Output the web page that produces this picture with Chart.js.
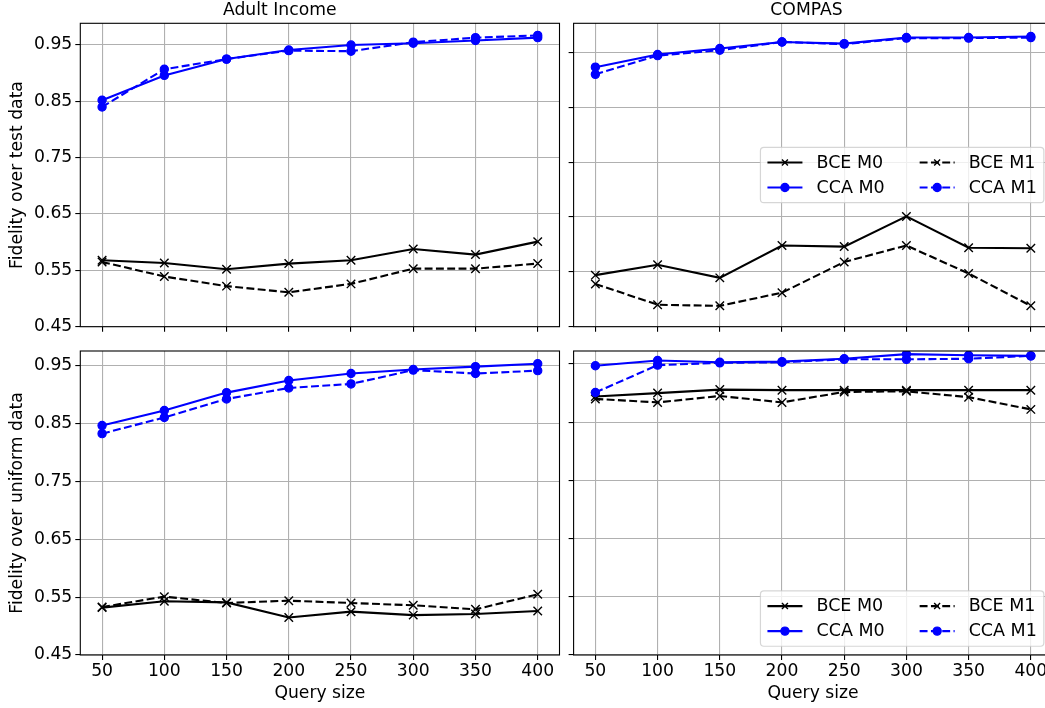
<!DOCTYPE html>
<html>
<head>
<meta charset="utf-8">
<script src="https://cdn.jsdelivr.net/npm/chart.js@4.4.0/dist/chart.umd.min.js"></script>
<style>
html, body { margin:0; padding:0; background:#fff; overflow:hidden; width:1045px; height:708px; position:relative; }
.p { position:absolute; }
canvas { display:block; }
</style>
</head>
<body>
<div class="p" style="left:0px;top:0px"><canvas id="tl" width="570" height="335"></canvas></div>
<div class="p" style="left:560px;top:0px"><canvas id="tr" width="500" height="335"></canvas></div>
<div class="p" style="left:0px;top:335px"><canvas id="bl" width="570" height="373"></canvas></div>
<div class="p" style="left:560px;top:335px"><canvas id="br" width="500" height="373"></canvas></div>
<script>
// ---------- data ----------
const querySizes = [50, 100, 150, 200, 250, 300, 350, 400];
const yTickValues = [0.45, 0.55, 0.65, 0.75, 0.85, 0.95];
const seriesNames = ['BCE M0', 'CCA M0', 'BCE M1', 'CCA M1'];
const panelTitles = ['Adult Income', 'COMPAS'];
const rowTitles = ['Fidelity over test data', 'Fidelity over uniform data'];
const xTitle = 'Query size';

// Adult Income, test data
const adultTestBceM0 = [0.568, 0.563, 0.552, 0.562, 0.568, 0.588, 0.578, 0.601];
const adultTestCcaM0 = [0.852, 0.896, 0.925, 0.941, 0.950, 0.953, 0.958, 0.963];
const adultTestBceM1 = [0.565, 0.539, 0.522, 0.511, 0.526, 0.553, 0.553, 0.562];
const adultTestCcaM1 = [0.840, 0.907, 0.925, 0.940, 0.939, 0.955, 0.963, 0.967];
// COMPAS, test data
const compasTestBceM0 = [0.544, 0.563, 0.539, 0.598, 0.596, 0.651, 0.594, 0.593];
const compasTestCcaM0 = [0.923, 0.946, 0.957, 0.969, 0.966, 0.977, 0.977, 0.979];
const compasTestBceM1 = [0.528, 0.490, 0.488, 0.512, 0.568, 0.598, 0.547, 0.488];
const compasTestCcaM1 = [0.910, 0.944, 0.954, 0.969, 0.965, 0.976, 0.976, 0.977];
// Adult Income, uniform data
const adultUnifBceM0 = [0.532, 0.543, 0.541, 0.515, 0.525, 0.519, 0.521, 0.526];
const adultUnifCcaM0 = [0.847, 0.873, 0.904, 0.925, 0.937, 0.944, 0.949, 0.954];
const adultUnifBceM1 = [0.533, 0.551, 0.540, 0.544, 0.540, 0.536, 0.529, 0.555];
const adultUnifCcaM1 = [0.833, 0.861, 0.893, 0.912, 0.919, 0.943, 0.937, 0.942];
// COMPAS, uniform data
const compasUnifBceM0 = [0.894, 0.900, 0.906, 0.905, 0.905, 0.905, 0.905, 0.905];
const compasUnifCcaM0 = [0.947, 0.956, 0.953, 0.954, 0.959, 0.967, 0.965, 0.964];
const compasUnifBceM1 = [0.890, 0.884, 0.895, 0.884, 0.902, 0.903, 0.893, 0.872];
const compasUnifCcaM1 = [0.901, 0.948, 0.952, 0.953, 0.958, 0.958, 0.959, 0.964];

// ---------- styling ----------
const FONT = "'DejaVu Sans', 'Noto Sans', sans-serif";
const FS = 17.2;
Chart.defaults.font.family = FONT;
Chart.defaults.font.size = FS;
Chart.defaults.color = '#000';

function styleFor(name) {
  const isBce = name.startsWith('BCE');
  const dashed = name.endsWith('M1');
  const color = isBce ? '#000000' : '#0000ff';
  return {
    color,
    dash: dashed ? [7.9, 3.4] : [],
    pointStyle: isBce ? 'crossRot' : 'circle',
    radius: isBce ? 6 : 4.1,
    pointBorderWidth: isBce ? 1.4 : 1.2
  };
}

function makeDatasets(series) {
  return seriesNames.map((name, i) => {
    const s = styleFor(name);
    return {
      label: name,
      data: querySizes.map((q, k) => ({ x: q, y: series[i][k] })),
      borderColor: s.color,
      backgroundColor: s.color,
      borderWidth: 2.1,
      borderDash: s.dash,
      pointStyle: s.pointStyle,
      pointRadius: s.radius,
      pointBorderWidth: s.pointBorderWidth,
      pointBorderColor: s.color,
      pointBackgroundColor: s.color,
      tension: 0,
      fill: false,
      order: seriesNames.length - i
    };
  });
}

// frame (spines)
const framePlugin = {
  id: 'frame',
  afterDatasetsDraw(chart) {
    const { ctx, chartArea: a } = chart;
    ctx.save();
    ctx.strokeStyle = '#000';
    ctx.lineWidth = 1.1;
    ctx.setLineDash([]);
    ctx.strokeRect(a.left, a.top, a.right - a.left, a.bottom - a.top);
    ctx.restore();
  }
};

function drawMarker(ctx, s, x, y) {
  ctx.save();
  ctx.setLineDash([]);
  ctx.strokeStyle = s.color;
  ctx.fillStyle = s.color;
  ctx.lineWidth = s.pointBorderWidth;
  if (s.pointStyle === 'circle') {
    ctx.beginPath();
    ctx.arc(x, y, s.radius, 0, Math.PI * 2);
    ctx.fill();
    ctx.stroke();
  } else {
    const d = s.radius * Math.SQRT1_2;
    ctx.beginPath();
    ctx.moveTo(x - d, y - d); ctx.lineTo(x + d, y + d);
    ctx.moveTo(x - d, y + d); ctx.lineTo(x + d, y - d);
    ctx.stroke();
  }
  ctx.restore();
}

// matplotlib-like legend (2 columns, column-major)
const mplLegend = {
  id: 'mplLegend',
  afterDraw(chart, args, opts) {
    if (!opts || !opts.loc) return;
    const { ctx, chartArea: a } = chart;
    const fs = 17.5;
    ctx.save();
    ctx.font = fs + 'px ' + FONT;
    const names = seriesNames;
    const cols = [[names[0], names[1]], [names[2], names[3]]];
    const colW = cols.map(c => Math.max(...c.map(n => ctx.measureText(n).width)));
    const handleLen = 2 * fs, pad = 0.8 * fs, border = 0.4 * fs, colSp = 2 * fs, labSp = 0.5 * fs, axPad = 0.5 * fs;
    const rowH = 0.93 * fs;
    const w = 2 * border + 2 * (handleLen + pad) + colW[0] + colW[1] + colSp;
    const h = 2 * border + 2 * rowH + labSp;
    const right = a.right - axPad;
    const left = right - w;
    const top = opts.loc === 'center right' ? (a.top + a.bottom) / 2 - h / 2 : a.bottom - axPad - h;
    // frame
    const r = 0.2 * fs;
    ctx.beginPath();
    ctx.roundRect(left, top, w, h, r);
    ctx.fillStyle = 'rgba(255,255,255,0.8)';
    ctx.fill();
    ctx.lineWidth = 1.2;
    ctx.strokeStyle = 'rgba(204,204,204,0.8)';
    ctx.stroke();
    // entries
    ctx.textBaseline = 'middle';
    ctx.textAlign = 'left';
    let cx = left + border;
    cols.forEach((col, ci) => {
      col.forEach((name, ri) => {
        const s = styleFor(name);
        const cy = top + border + rowH / 2 + ri * (rowH + labSp);
        ctx.save();
        ctx.strokeStyle = s.color;
        ctx.lineWidth = 2.1;
        ctx.setLineDash(s.dash);
        ctx.beginPath();
        ctx.moveTo(cx, cy);
        ctx.lineTo(cx + handleLen, cy);
        ctx.stroke();
        ctx.restore();
        drawMarker(ctx, { ...s, radius: s.pointStyle === 'circle' ? 4.1 : 4.2 }, cx + handleLen / 2, cy);
        ctx.fillStyle = '#000';
        ctx.fillText(name, cx + handleLen + pad, cy + 0.5);
      });
      cx += handleLen + pad + colW[ci] + colSp;
    });
    ctx.restore();
  }
};

function makePanel(id, cfg) {
  const canvas = document.getElementById(id);
  const W = canvas.width, H = canvas.height;
  const series = cfg.series;
  new Chart(canvas, {
    type: 'line',
    data: { datasets: makeDatasets(series) },
    plugins: [framePlugin, mplLegend],
    options: {
      responsive: false,
      animation: false,
      devicePixelRatio: 1,
      events: [],
      layout: { padding: { left: 0, top: cfg.padTop, right: W - cfg.areaRight, bottom: 0 } },
      plugins: {
        legend: { display: false },
        tooltip: { enabled: false },
        title: cfg.title ? {
          display: true, text: cfg.title, color: '#000',
          font: { size: FS, weight: 'normal', lineHeight: 1.2 },
          padding: { top: 0.6, bottom: 23.3 - 0.6 - FS * 1.2 }
        } : { display: false },
        mplLegend: { loc: cfg.legendLoc }
      },
      scales: {
        x: {
          type: 'linear',
          min: 32.5, max: 417.5,
          afterBuildTicks: (s) => { s.ticks = querySizes.map(v => ({ value: v })); },
          afterFit: (s) => { s.height = H - cfg.areaBottom; s.paddingLeft = 0; s.paddingRight = 0; },
          grid: { color: '#b0b0b0', lineWidth: 1.1, tickColor: '#000', tickWidth: 1.1, tickLength: 5, drawTicks: true },
          border: { display: false },
          ticks: { display: cfg.xLabels, padding: 1.5, maxRotation: 0, autoSkip: false, color: '#000', font: { size: FS },
                   callback: (v) => String(v) },
          title: cfg.xLabels ? { display: true, text: xTitle, color: '#000', font: { size: FS }, padding: { top: 0, bottom: 4 } } : { display: false }
        },
        y: {
          type: 'linear',
          min: 0.45, max: cfg.yMax,
          afterBuildTicks: (s) => { s.ticks = yTickValues.map(v => ({ value: v })); },
          afterFit: (s) => { s.width = cfg.areaLeft; s.paddingTop = 0; s.paddingBottom = 0; },
          grid: { color: '#b0b0b0', lineWidth: 1.1, tickColor: '#000', tickWidth: 1.1, tickLength: 5, drawTicks: true },
          border: { display: false },
          ticks: { display: cfg.yLabels, padding: 3, autoSkip: false, color: '#000', font: { size: FS },
                   callback: (v) => Number(v).toFixed(2) },
          title: cfg.yTitle ? { display: true, text: cfg.yTitle, color: '#000', font: { size: FS }, padding: { top: 7.2, bottom: 0 } } : { display: false }
        }
      }
    }
  });
}

makePanel('tl', {
  series: [adultTestBceM0, adultTestCcaM0, adultTestBceM1, adultTestCcaM1],
  title: panelTitles[0], yTitle: rowTitles[0], xLabels: false, yLabels: true,
  yMax: 0.9885, padTop: 0, areaLeft: 80.3, areaRight: 559.5, areaBottom: 326.7
});
makePanel('tr', {
  series: [compasTestBceM0, compasTestCcaM0, compasTestBceM1, compasTestCcaM1],
  title: panelTitles[1], yTitle: null, xLabels: false, yLabels: false, legendLoc: 'center right',
  yMax: 1.003, padTop: 0, areaLeft: 13.6, areaRight: 493.0, areaBottom: 326.7
});
makePanel('bl', {
  series: [adultUnifBceM0, adultUnifCcaM0, adultUnifBceM1, adultUnifCcaM1],
  title: null, yTitle: rowTitles[1], xLabels: true, yLabels: true,
  yMax: 0.976, padTop: 16, areaLeft: 80.3, areaRight: 559.5, areaBottom: 320
});
makePanel('br', {
  series: [compasUnifBceM0, compasUnifCcaM0, compasUnifBceM1, compasUnifCcaM1],
  title: null, yTitle: null, xLabels: true, yLabels: false, legendLoc: 'lower right',
  yMax: 0.9723, padTop: 16, areaLeft: 13.6, areaRight: 493.0, areaBottom: 320
});
</script>
</body>
</html>
